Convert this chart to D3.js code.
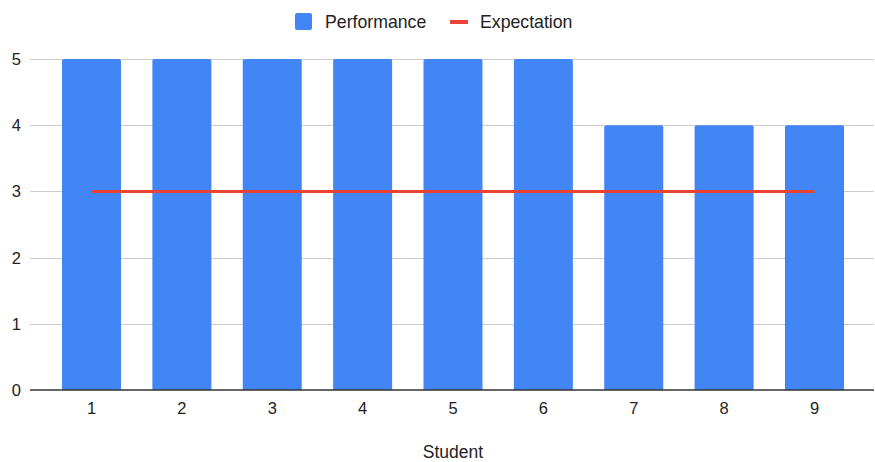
<!DOCTYPE html>
<html>
<head>
<meta charset="utf-8">
<script src="https://cdn.jsdelivr.net/npm/d3@7"></script>
<style>
  html, body { margin: 0; padding: 0; background: #fff; }
  svg { display: block; font-family: "Liberation Sans", Arial, Helvetica, sans-serif; }
</style>
</head>
<body>
<svg id="chart" width="875" height="462"></svg>
<script>
// Student scores against the expected level
const students = ["1", "2", "3", "4", "5", "6", "7", "8", "9"];
const performance = [5, 5, 5, 5, 5, 5, 4, 4, 4];
const expectation = [3, 3, 3, 3, 3, 3, 3, 3, 3];
const yTicks = [0, 1, 2, 3, 4, 5];
const seriesNames = ["Performance", "Expectation"];
const xTitle = "Student";

const barColor = "#4285f4";
const lineColor = "#ea4335";
const textColor = "#222";

const svg = d3.select("#chart");
const plotLeft = 30, plotRight = 874, plotTop = 59, plotBottom = 390;

const x = d3.scaleBand()
  .domain(students)
  .range([plotLeft + 1, plotRight + 1])
  .paddingInner(0.347)
  .paddingOuter(0.343);

const y = d3.scaleLinear()
  .domain([0, 5])
  .range([plotBottom, plotTop]);

// horizontal gridlines
svg.append("g")
  .selectAll("line")
  .data(yTicks.filter(d => d !== 0))
  .join("line")
  .attr("x1", plotLeft).attr("x2", plotRight)
  .attr("y1", d => Math.round(y(d)) + 0.5)
  .attr("y2", d => Math.round(y(d)) + 0.5)
  .attr("stroke", "#cccccc")
  .attr("stroke-width", 1);

// y tick labels
svg.append("g")
  .selectAll("text")
  .data(yTicks)
  .join("text")
  .attr("x", 21)
  .attr("y", d => y(d))
  .attr("dy", "0.36em")
  .attr("text-anchor", "end")
  .attr("fill", textColor)
  .style("font-size", "16.5px")
  .text(d => d);

// bars with slightly rounded top corners
const r = 2;
svg.append("g")
  .selectAll("path")
  .data(performance.map((v, i) => ({ s: students[i], v })))
  .join("path")
  .attr("fill", barColor)
  .attr("d", d => {
    const x0 = x(d.s), x1 = x0 + x.bandwidth();
    const y0 = y(d.v), y1 = y(0);
    return `M${x0},${y1}V${y0 + r}Q${x0},${y0} ${x0 + r},${y0}H${x1 - r}Q${x1},${y0} ${x1},${y0 + r}V${y1}Z`;
  });

// baseline
svg.append("line")
  .attr("x1", plotLeft).attr("x2", plotRight)
  .attr("y1", y(0)).attr("y2", y(0))
  .attr("stroke", "#333")
  .attr("stroke-width", 1.5);

// expectation line
const line = d3.line()
  .x((d, i) => x(students[i]) + x.bandwidth() / 2)
  .y(d => y(d));
svg.append("path")
  .datum(expectation)
  .attr("d", line)
  .attr("fill", "none")
  .attr("stroke", lineColor)
  .attr("stroke-width", 3);

// x axis labels
const xAxis = d3.axisBottom(x).tickSize(0).tickPadding(12);
const gx = svg.append("g")
  .attr("transform", `translate(0,${plotBottom})`)
  .call(xAxis);
gx.select(".domain").remove();
gx.selectAll("text")
  .attr("fill", textColor)
  .style("font-size", "16.5px")
  .style("font-family", "'Liberation Sans', Arial, sans-serif");

// x axis title
svg.append("text")
  .attr("x", (plotLeft + plotRight) / 2 + 1)
  .attr("y", 458)
  .attr("text-anchor", "middle")
  .attr("fill", textColor)
  .style("font-size", "17.5px")
  .text(xTitle);

// legend
const legend = svg.append("g");
legend.append("rect")
  .attr("x", 295).attr("y", 13)
  .attr("width", 17).attr("height", 17)
  .attr("rx", 2)
  .attr("fill", barColor);
legend.append("text")
  .attr("x", 325).attr("y", 28)
  .attr("fill", textColor)
  .style("font-size", "17.7px")
  .text(seriesNames[0]);
legend.append("line")
  .attr("x1", 450).attr("x2", 468)
  .attr("y1", 22).attr("y2", 22)
  .attr("stroke", lineColor)
  .attr("stroke-width", 4);
legend.append("text")
  .attr("x", 480).attr("y", 28)
  .attr("fill", textColor)
  .style("font-size", "17.7px")
  .text(seriesNames[1]);
</script>
</body>
</html>
